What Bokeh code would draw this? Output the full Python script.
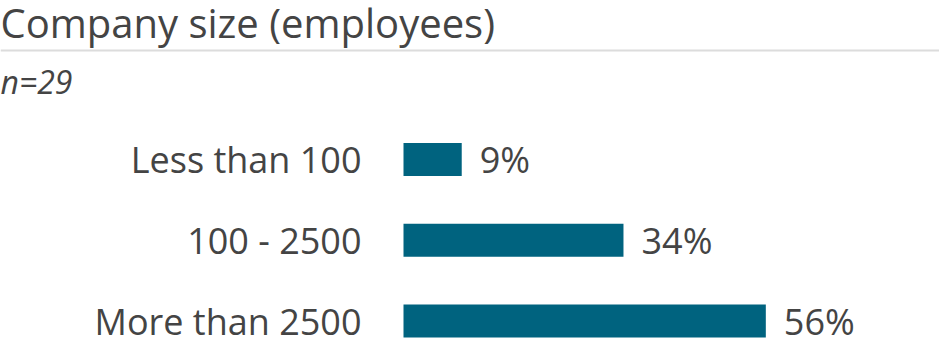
from bokeh.plotting import figure
from bokeh.models import Range1d, Label, Span, ColumnDataSource
from bokeh.core.properties import value
from bokeh.embed import file_html
from bokeh.resources import INLINE

title_text = "Company size (employees)"
subtitle_text = "n=29"
categories = ["Less than 100", "100 - 2500", "More than 2500"]
percents = [9, 34, 56]
value_labels = ["9%", "34%", "56%"]

BAR_COLOR = "#00637f"
TEXT_COLOR = "#444444"
FONT = "Open Sans"

W, H = 939, 345
px_per_unit_x = 6.47
bar_left_px = 403
row_px = 80.75
first_row_px = 159

idx = list(range(len(categories)))
src = ColumnDataSource(dict(y=idx, cat=categories, val=percents, lab=value_labels))

p = figure(width=W, height=H, output_backend="svg", toolbar_location=None,
           min_border=0, outline_line_color=None,
           x_range=Range1d(-bar_left_px / px_per_unit_x, (W - bar_left_px) / px_per_unit_x),
           y_range=Range1d((H - first_row_px) / row_px, -first_row_px / row_px))
p.axis.visible = False
p.grid.visible = False
p.background_fill_color = "white"
p.border_fill_color = "white"

p.hbar(y="y", left=0, right="val", height=0.41, source=src,
       fill_color=BAR_COLOR, line_color=None)

p.text(x=0, y="y", text="cat", source=src, x_offset=-42, y_offset=0,
       text_align="right", text_baseline="alphabetic",
       text_font=value(FONT), text_font_size="36px", text_color=TEXT_COLOR)
p.text(x="val", y="y", text="lab", source=src, x_offset=18, y_offset=0,
       text_align="left", text_baseline="alphabetic",
       text_font=value(FONT), text_font_size="36px", text_color=TEXT_COLOR)

p.add_layout(Label(x=0, y=H - 22, x_units="screen", y_units="screen",
                   text=title_text, text_font=FONT, text_font_size="40px",
                   text_color=TEXT_COLOR, text_baseline="alphabetic"))
p.add_layout(Span(location=H - 50, location_units="screen", dimension="width",
                  line_color="#dcdcdc", line_width=2))
p.add_layout(Label(x=0, y=H - 81, x_units="screen", y_units="screen",
                   text=subtitle_text, text_font=FONT, text_font_size="32px",
                   text_font_style="italic", text_color=TEXT_COLOR,
                   text_baseline="alphabetic"))

open("out.html", "w").write(file_html(p, INLINE))
